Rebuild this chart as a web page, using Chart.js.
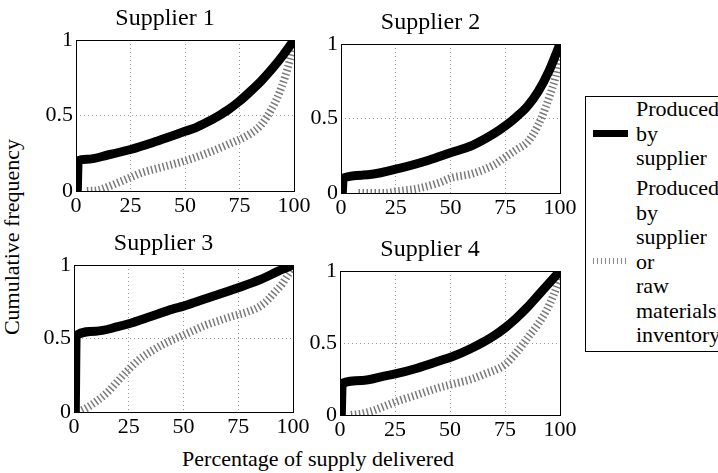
<!DOCTYPE html>
<html><head><meta charset="utf-8">
<script src="https://cdn.jsdelivr.net/npm/chart.js@4.4.1/dist/chart.umd.min.js"></script>
<style>
body{margin:0;width:718px;height:473px;background:#fff;position:relative;overflow:hidden;font-family:"Liberation Serif","Times New Roman",serif;color:#000;}
canvas{position:absolute;}
.lbl{position:absolute;font-size:22px;white-space:nowrap;line-height:1;}
#legend{position:absolute;left:585px;top:96px;width:150px;height:256px;border:1px solid #000;background:#fff;box-sizing:border-box;}
.entry{position:absolute;left:50px;font-size:22px;line-height:24.5px;white-space:nowrap;}
.mk{position:absolute;left:7px;width:35px;}
</style></head><body>
<div class="lbl" id="ylab" style="left:12px;top:237px;transform:translate(-50%,-50%) rotate(-90deg);">Cumulative frequency</div>
<div class="lbl" id="xlab" style="left:318px;top:459px;transform:translate(-50%,-50%);">Percentage of supply delivered</div>
<div id="legend">
  <div class="mk" style="top:33px;height:7px;background:#000;"></div>
  <div class="entry" style="top:0px;">Produced<br>by<br>supplier</div>
  <div class="mk" style="top:161px;height:6px;background:repeating-linear-gradient(90deg,#8a8a8a 0 1px,transparent 1px 4px);"></div>
  <div class="entry" style="top:79px;">Produced<br>by<br>supplier<br>or<br>raw<br>materials<br>inventory</div>
</div>
<script>
// ---- data ----
const xTicks = [0, 25, 50, 75, 100];
const yTicks = [0, 0.5, 1];
const titles = ['Supplier 1', 'Supplier 2', 'Supplier 3', 'Supplier 4'];
const seriesNames = ['Produced by supplier', 'Produced by supplier or raw materials inventory'];

const s1SupplierX = [0.6, 1, 5, 15, 25, 35, 45, 50, 55, 60, 65, 70, 75, 80, 85, 90, 95, 100];
const s1SupplierY = [0, 0.2, 0.21, 0.24, 0.275, 0.32, 0.37, 0.395, 0.42, 0.455, 0.495, 0.54, 0.595, 0.66, 0.73, 0.81, 0.9, 1.0];
const s1InventoryX = [5, 10, 15, 20, 25, 30, 40, 50, 60, 70, 80, 85, 90, 93, 96, 98, 100];
const s1InventoryY = [0, 0.005, 0.03, 0.06, 0.09, 0.12, 0.16, 0.2, 0.25, 0.31, 0.38, 0.44, 0.55, 0.64, 0.76, 0.86, 0.97];

const s2SupplierX = [0.6, 1, 10, 25, 40, 50, 60, 70, 75, 80, 85, 90, 95, 100];
const s2SupplierY = [0, 0.1, 0.12, 0.16, 0.22, 0.27, 0.32, 0.4, 0.45, 0.51, 0.58, 0.68, 0.82, 1.0];
const s2InventoryX = [8, 20, 25, 35, 45, 50, 60, 70, 75, 80, 85, 88, 92, 95, 98, 100];
const s2InventoryY = [0, 0, 0.01, 0.03, 0.07, 0.1, 0.13, 0.19, 0.24, 0.29, 0.34, 0.4, 0.52, 0.64, 0.78, 0.92];

const s3SupplierX = [0.6, 1, 10, 20, 25, 35, 45, 50, 60, 70, 75, 85, 95, 100];
const s3SupplierY = [0, 0.52, 0.55, 0.58, 0.6, 0.65, 0.7, 0.72, 0.77, 0.82, 0.845, 0.9, 0.97, 1.0];
const s3InventoryX = [2, 6, 10, 15, 20, 25, 30, 36, 42, 48, 54, 60, 66, 72, 79, 85, 89, 92, 95, 98, 100];
const s3InventoryY = [0, 0.03, 0.07, 0.13, 0.21, 0.29, 0.36, 0.42, 0.47, 0.51, 0.55, 0.59, 0.62, 0.65, 0.68, 0.72, 0.77, 0.82, 0.87, 0.94, 0.98];

const s4SupplierX = [0.6, 1, 10, 20, 25, 35, 45, 50, 55, 60, 65, 70, 75, 80, 85, 90, 95, 100];
const s4SupplierY = [0, 0.22, 0.24, 0.27, 0.285, 0.325, 0.375, 0.4, 0.43, 0.465, 0.505, 0.55, 0.605, 0.67, 0.745, 0.83, 0.915, 1.0];
const s4InventoryX = [5, 10, 15, 20, 25, 35, 45, 50, 60, 65, 75, 80, 86, 90, 94, 97, 100];
const s4InventoryY = [0, 0.01, 0.03, 0.06, 0.09, 0.14, 0.19, 0.21, 0.25, 0.28, 0.35, 0.43, 0.55, 0.63, 0.73, 0.83, 0.95];

const supplierX = [s1SupplierX, s2SupplierX, s3SupplierX, s4SupplierX];
const supplierY = [s1SupplierY, s2SupplierY, s3SupplierY, s4SupplierY];
const inventoryX = [s1InventoryX, s2InventoryX, s3InventoryX, s4InventoryX];
const inventoryY = [s1InventoryY, s2InventoryY, s3InventoryY, s4InventoryY];

// ---- layout ----
const panels = [
  {l: 76, t: 40, r: 294, b: 191},
  {l: 341, t: 44, r: 560, b: 193},
  {l: 74, t: 265, r: 293, b: 412},
  {l: 340, t: 271, r: 560, b: 415}
];
const YW = 40, XH = 32, TH = 40, RP = 40;
const FAMILY = '"Liberation Serif","Times New Roman",serif';
const FONT = {family: FAMILY, size: 22, weight: 'normal'};
const TFONT = {family: FAMILY, size: 24, weight: 'normal'};

const boxPlugin = {
  id: 'box',
  afterDraw(chart) {
    const a = chart.chartArea, ctx = chart.ctx;
    ctx.save();
    ctx.strokeStyle = '#000';
    ctx.lineWidth = 1;
    ctx.setLineDash([]);
    ctx.strokeRect(Math.round(a.left) + 0.5, Math.round(a.top) + 0.5, Math.round(a.right - a.left), Math.round(a.bottom - a.top));
    ctx.restore();
  }
};

function pts(xs, ys) { return xs.map((x, k) => ({x: x, y: ys[k]})); }

function makeChart(i) {
  const p = panels[i];
  const W = (p.r - p.l) + YW + RP, H = (p.b - p.t) + TH + XH;
  const cv = document.createElement('canvas');
  cv.width = W; cv.height = H;
  cv.style.left = (p.l - YW) + 'px'; cv.style.top = (p.t - TH) + 'px';
  cv.style.width = W + 'px'; cv.style.height = H + 'px';
  document.body.appendChild(cv);
  const gridColor = (ctx, lo, hi) => (ctx.tick && (ctx.tick.value === lo || ctx.tick.value === hi)) ? 'rgba(0,0,0,0)' : '#9a9a9a';
  new Chart(cv, {
    type: 'scatter',
    data: {datasets: [
      {label: seriesNames[0], data: pts(supplierX[i], supplierY[i]), showLine: true, borderColor: '#000', backgroundColor: '#000',
       borderWidth: 9, pointRadius: 0, cubicInterpolationMode: 'monotone', borderJoinStyle: 'round'},
      {label: seriesNames[1], data: pts(inventoryX[i], inventoryY[i]), showLine: true, borderColor: '#7a7a7a', backgroundColor: '#7a7a7a',
       borderWidth: 8, borderDash: [1.5, 2.5], pointRadius: 0, cubicInterpolationMode: 'monotone'}
    ]},
    options: {
      responsive: false, animation: false, devicePixelRatio: 1,
      layout: {padding: {left: 0, top: 0, right: RP, bottom: 0}},
      plugins: {
        legend: {display: false}, tooltip: {enabled: false},
        title: {display: true, text: titles[i], color: '#000', font: TFONT, padding: {top: 4.6, bottom: 6.6}}
      },
      scales: {
        x: {
          type: 'linear', min: 0, max: 100,
          afterBuildTicks: s => { s.ticks = xTicks.map(v => ({value: v})); },
          afterFit: s => { s.height = XH; },
          ticks: {color: '#000', font: FONT, padding: 2, maxRotation: 0, autoSkip: false, callback: v => String(v)},
          grid: {drawTicks: false, lineWidth: 1, color: ctx => gridColor(ctx, 0, 100)},
          border: {display: false, dash: [1, 3]}
        },
        y: {
          type: 'linear', min: 0, max: 1,
          afterBuildTicks: s => { s.ticks = yTicks.map(v => ({value: v})); },
          afterFit: s => { s.width = YW; },
          ticks: {color: '#000', font: FONT, padding: 3, autoSkip: false, callback: v => String(v)},
          grid: {drawTicks: false, lineWidth: 1, color: ctx => gridColor(ctx, 0, 1)},
          border: {display: false, dash: [1, 3]}
        }
      }
    },
    plugins: [boxPlugin]
  });
}
for (let i = 0; i < 4; i++) makeChart(i);
</script>
</body></html>
